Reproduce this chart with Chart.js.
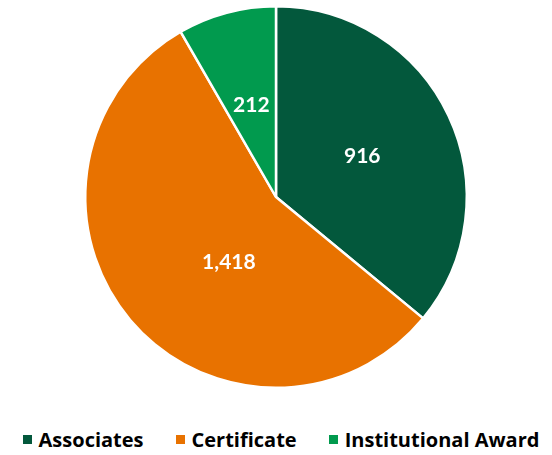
<!DOCTYPE html>
<html>
<head>
<meta charset="utf-8">
<script src="https://cdn.jsdelivr.net/npm/chart.js@4/dist/chart.umd.min.js"></script>
<style>
  html, body { margin: 0; padding: 0; background: #fff; overflow: hidden; }
  #wrap { position: relative; width: 552px; height: 455px; }
  #pie { position: absolute; left: 0; top: 0; }
  #legend {
    position: absolute; left: 0; right: 0; top: 426px;
    display: flex; justify-content: center; align-items: center;
    padding-left: 10px; white-space: nowrap;
    font: bold 20px "Open Sans", Lato, sans-serif; color: #000;
  }
  #legend .item { display: flex; align-items: center; flex-shrink: 0; margin: 0 16px; }
  #legend .box { width: 9px; height: 9px; margin-right: 7px; flex-shrink: 0; }
</style>
</head>
<body>
<div id="wrap">
  <canvas id="pie" width="552" height="395"></canvas>
  <div id="legend"></div>
</div>
<script>
// Awards by type
const labels = ["Associates", "Certificate", "Institutional Award"];
const counts = [916, 1418, 212];
const colors = ["#03583C", "#E87200", "#019A4E"];

// label placement: fraction of radius and angle nudge (radians) per slice
const labelRadius = [0.5, 0.42, 0.5];
const labelNudge = [0, -0.24, 0];

const fmt = n => n.toLocaleString("en-US");

// writes the value inside each slice
const sliceLabels = {
  id: "sliceLabels",
  afterDatasetsDraw(chart) {
    const ctx = chart.ctx;
    const meta = chart.getDatasetMeta(0);
    ctx.save();
    ctx.fillStyle = "#fff";
    ctx.font = "bold 21px Lato, 'Open Sans', sans-serif";
    ctx.textAlign = "center";
    ctx.textBaseline = "middle";
    meta.data.forEach((arc, i) => {
      const p = arc.getProps(["x", "y", "startAngle", "endAngle", "outerRadius"], true);
      const a = (p.startAngle + p.endAngle) / 2 + labelNudge[i];
      const r = p.outerRadius * labelRadius[i];
      ctx.fillText(fmt(counts[i]), p.x + Math.cos(a) * r, p.y + Math.sin(a) * r);
    });
    ctx.restore();
  }
};

new Chart(document.getElementById("pie"), {
  type: "pie",
  data: {
    labels: labels,
    datasets: [{
      data: counts,
      backgroundColor: colors,
      borderColor: "#fff",
      borderWidth: 2.5
    }]
  },
  options: {
    responsive: false,
    animation: false,
    layout: { padding: { top: 5, bottom: 6 } },
    plugins: {
      tooltip: { enabled: false },
      legend: { display: false }
    }
  },
  plugins: [sliceLabels]
});

// legend row under the pie
const legendEl = document.getElementById("legend");
labels.forEach((name, i) => {
  const item = document.createElement("div");
  item.className = "item";
  const box = document.createElement("span");
  box.className = "box";
  box.style.background = colors[i];
  item.appendChild(box);
  item.appendChild(document.createTextNode(name));
  legendEl.appendChild(item);
});
</script>
</body>
</html>
